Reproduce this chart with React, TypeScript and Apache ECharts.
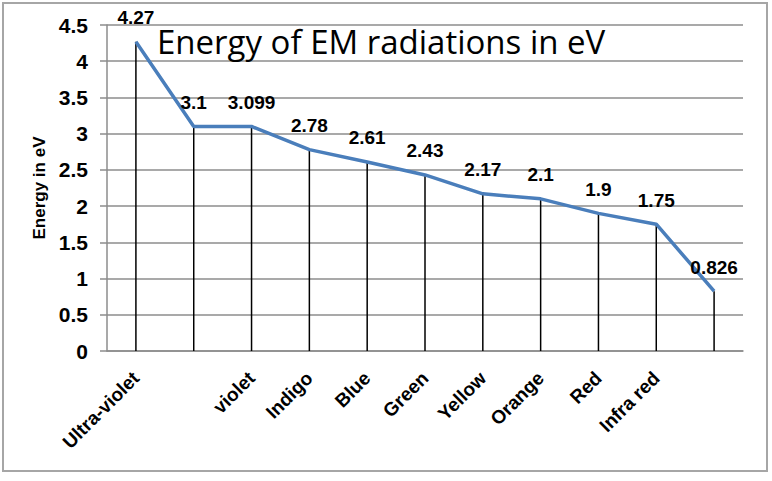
import React, { useEffect, useRef } from "react";
import * as echarts from "echarts";

const categories = [
  "Ultra-violet",
  "",
  "violet",
  "Indigo",
  "Blue",
  "Green",
  "Yellow",
  "Orange",
  "Red",
  "Infra red",
  "",
];
const energies = [4.27, 3.1, 3.099, 2.78, 2.61, 2.43, 2.17, 2.1, 1.9, 1.75, 0.826];
const labelTexts = ["4.27", "3.1", "3.099", "2.78", "2.61", "2.43", "2.17", "2.1", "1.9", "1.75", "0.826"];
const yMin = 0;
const yMax = 4.5;
const yStep = 0.5;

export default function App() {
  const ref = useRef<HTMLDivElement>(null);
  useEffect(() => {
    if (!ref.current) return;
    const chart = echarts.init(ref.current, undefined, { renderer: "svg" });
    const font = "'Liberation Sans', Arial, sans-serif";
    chart.setOption({
      animation: false,
      backgroundColor: "#ffffff",
      title: {
        text: "Energy of EM radiations in eV",
        left: 152,
        top: 20,
        textStyle: {
          fontFamily: "'Open Sans', sans-serif",
          fontSize: 33,
          fontWeight: "normal",
          color: "#000",
        },
      },
      graphic: [
        {
          type: "rect",
          shape: { x: 3, y: 3, width: 764, height: 468 },
          style: { fill: "none", stroke: "#a6a6a6", lineWidth: 2 },
          silent: true,
          z: 0,
        },
      ],
      grid: { left: 107, right: 29, top: 25, bottom: 130, containLabel: false },
      xAxis: {
        type: "category",
        data: categories,
        boundaryGap: true,
        axisLine: { show: true, lineStyle: { color: "#8c8c8c", width: 1.5 } },
        axisTick: { show: false },
        axisLabel: {
          interval: 0,
          rotate: 45,
          margin: 24,
          fontFamily: font,
          fontSize: 19,
          fontWeight: "bold",
          color: "#000",
        },
        splitLine: { show: false },
      },
      yAxis: {
        type: "value",
        min: yMin,
        max: yMax,
        interval: yStep,
        name: "Energy in eV",
        nameLocation: "middle",
        nameGap: 55,
        nameTextStyle: {
          fontFamily: font,
          fontSize: 17,
          fontWeight: "bold",
          color: "#000",
        },
        axisLine: { show: true, lineStyle: { color: "#8c8c8c", width: 1.5 } },
        axisTick: { show: true, inside: false, length: 7, lineStyle: { color: "#8c8c8c", width: 1.5 } },
        axisLabel: {
          margin: 19,
          fontFamily: font,
          fontSize: 21,
          fontWeight: "bold",
          color: "#000",
        },
        splitLine: { show: true, lineStyle: { color: "#8c8c8c", width: 1.5 } },
      },
      series: [
        {
          type: "bar",
          data: energies,
          barWidth: 1.5,
          silent: true,
          itemStyle: { color: "#000" },
          z: 2,
        },
        {
          type: "line",
          data: energies,
          showSymbol: true,
          symbol: "circle",
          symbolSize: 1,
          itemStyle: { color: "rgba(0,0,0,0)" },
          lineStyle: { color: "#4A7EBB", width: 3.5 },
          label: {
            show: true,
            position: "top",
            distance: 14,
            formatter: (p: any) => labelTexts[p.dataIndex],
            fontFamily: font,
            fontSize: 19,
            fontWeight: "bold",
            color: "#000",
          },
          z: 3,
        },
      ],
    });
    return () => chart.dispose();
  }, []);
  return (
    <div
      ref={ref}
      style={{ position: "absolute", left: 0, top: 0, width: 772, height: 481 }}
    />
  );
}
